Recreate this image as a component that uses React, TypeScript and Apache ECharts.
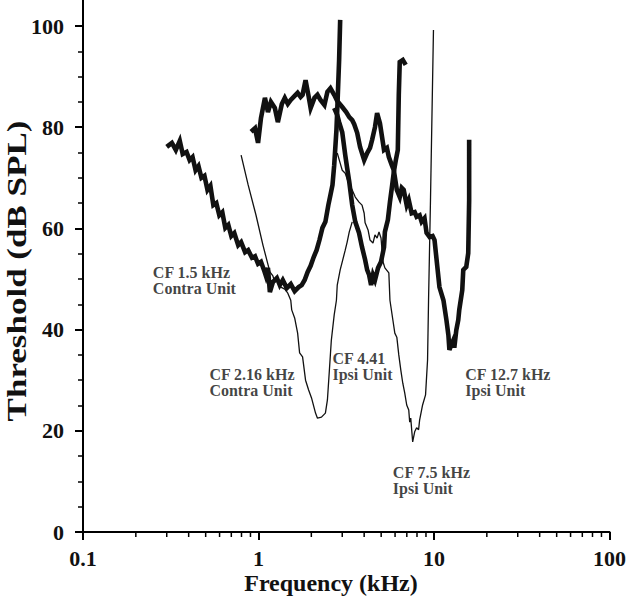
import React, { useEffect, useRef } from "react";
import * as echarts from "echarts";

const FONT = "'Liberation Serif', 'Times New Roman', Times, serif";

// Tuning curves: [frequency kHz, threshold dB SPL]
const cf15Contra: [number, number][] = [
  [0.3, 76.1], [0.321, 76.9], [0.338, 75.5], [0.356, 77.3], [0.37, 74.7], [0.389, 75.1],
  [0.405, 73.5], [0.421, 74.1], [0.438, 71.5], [0.455, 72.3], [0.473, 70], [0.492, 70.4],
  [0.512, 67.6], [0.532, 68.4], [0.553, 64.6], [0.575, 65], [0.598, 62.6], [0.622, 63.2],
  [0.647, 60.1], [0.673, 60.7], [0.7, 58.5], [0.728, 59.1], [0.766, 56.7], [0.796, 57.3],
  [0.839, 55.3], [0.873, 55.7], [0.918, 54.2], [0.955, 54.5], [0.994, 53], [1.033, 53.4],
  [1.074, 51.8], [1.102, 50.6], [1.132, 52.2], [1.161, 47.4], [1.208, 49.4], [1.273, 50.2],
  [1.322, 48.8], [1.375, 49.8], [1.449, 48.2], [1.527, 49], [1.607, 47.6], [1.694, 48.4],
  [1.762, 48.8], [1.833, 49.8], [1.906, 51.4], [1.982, 52.6], [2.061, 54.3], [2.143, 55.7],
  [2.225, 57.7], [2.313, 60.1], [2.405, 61.3], [2.5, 64.6], [2.57, 66.6], [2.64, 68.6],
  [2.7, 72.5], [2.78, 79.4], [2.81, 83.4], [2.88, 93.3], [2.92, 101.2],
];

const cf216Contra: [number, number][] = [
  [0.796, 74.5], [0.873, 68.6], [0.968, 62.6], [1.06, 56.7], [1.161, 51.4], [1.208, 50.6],
  [1.239, 49.4], [1.289, 49.8], [1.34, 48.4], [1.412, 48], [1.469, 47.2], [1.527, 45.8],
  [1.546, 43.9], [1.607, 42.3], [1.671, 39.3], [1.715, 35.4], [1.783, 34.6], [1.854, 30],
  [1.928, 28.1], [2.005, 26.5], [2.113, 23.5], [2.168, 22.5], [2.284, 22.7], [2.405, 23.5],
  [2.47, 26.1], [2.535, 32], [2.6, 37.9], [2.7, 42.9], [2.78, 45.8], [2.81, 48.8],
  [2.92, 51.8], [3.0, 53.4], [3.12, 55.7], [3.2, 57.3], [3.29, 59.3], [3.42, 61.3],
];

const cf441Ipsi: [number, number][] = [
  [2.7, 83.8], [2.81, 82.4], [2.88, 81], [3.0, 79], [3.12, 74.5], [3.2, 71.9], [3.29, 69.2],
  [3.42, 64.6], [3.56, 61.3], [3.74, 59.1], [3.89, 56.3], [4.05, 53.8], [4.16, 51.8],
  [4.27, 50.8], [4.38, 48.8], [4.49, 50.8], [4.61, 49.8], [4.8, 52.2], [4.99, 53.4],
  [5.19, 56.3], [5.25, 59.3], [5.46, 61.7], [5.61, 65.2], [5.75, 68], [5.9, 71.1],
  [6.06, 73.5], [6.22, 75.5], [6.3, 86.4], [6.38, 92.9], [6.64, 93.3], [6.9, 92.3],
];

const cf75Ipsi: [number, number][] = [
  [2.81, 74.9], [2.92, 72.9], [3.0, 71.5], [3.12, 70.9], [3.24, 69.2], [3.42, 67.6],
  [3.56, 66.2], [3.74, 65.2], [3.89, 64.6], [4.0, 63], [4.05, 61.1], [4.21, 59.7],
  [4.32, 57.7], [4.49, 57.1], [4.61, 58.7], [4.74, 58.1], [4.86, 59.3], [4.99, 58.1],
  [5.12, 53.4], [5.25, 52.2], [5.53, 51.2], [5.61, 45.8], [5.83, 41.9], [5.98, 39.3],
  [6.14, 38.5], [6.3, 35], [6.47, 32], [6.64, 29.4], [6.81, 27.5], [6.99, 25.1],
  [7.18, 24.1], [7.27, 21.7], [7.37, 22.5], [7.56, 17.8], [7.76, 19.8], [7.96, 20.6],
  [8.17, 20.2], [8.28, 22.1], [8.61, 25.1], [8.95, 27.1], [9.19, 34], [9.31, 45.8],
  [9.55, 65.6], [9.93, 99.2],
];

const cf127Ipsi: [number, number][] = [
  [0.907, 79.1], [0.955, 79.8], [0.994, 76.9], [1.033, 81.8], [1.088, 85.8], [1.132, 83],
  [1.177, 85], [1.239, 83.8], [1.289, 81], [1.358, 84.6], [1.412, 85.8], [1.469, 84.6],
  [1.527, 85.4], [1.607, 86.2], [1.671, 86.8], [1.738, 86], [1.783, 86.4], [1.854, 89.3],
  [1.928, 86.2], [1.982, 83.8], [2.084, 85.8], [2.168, 86.4], [2.255, 85.4], [2.375, 84.4],
  [2.47, 87], [2.57, 87.7], [2.7, 86.4], [2.81, 85.2], [3.0, 84], [3.16, 83], [3.29, 82],
  [3.42, 81.4], [3.51, 80.6], [3.65, 78.9], [3.79, 76.1], [4.0, 73.5], [4.16, 74.9],
  [4.32, 75.9], [4.44, 77.5], [4.61, 80], [4.74, 82.8], [4.92, 80.8], [5.19, 75.5],
  [5.39, 75.9], [5.53, 74.1], [5.75, 72.5], [5.9, 71.5], [6.14, 67.6], [6.38, 66.2],
  [6.55, 68], [6.72, 67.6], [6.99, 64.6], [7.18, 65.6], [7.46, 63], [7.76, 63.2],
  [7.96, 62.3], [8.28, 62.6], [8.5, 61.3], [8.83, 62], [9.07, 59.1], [9.44, 58.3],
  [9.82, 58.5], [10.07, 57.7], [10.74, 48.4], [11.32, 45.8], [11.77, 41.9], [12.08, 38.9],
  [12.24, 36], [12.56, 37], [12.88, 37.9], [13.05, 36.4], [13.4, 39.9], [13.75, 41.9],
  [13.93, 43.9], [14.49, 47.8], [14.68, 51.8], [15.27, 52.4], [15.67, 55.1], [15.86, 65.6],
  [15.86, 77.5],
];

// Annotation labels anchored at [kHz, dB]
const annotationTexts = [
  "CF 1.5 kHz\nContra Unit",
  "CF 2.16 kHz\nContra Unit",
  "CF 4.41\nIpsi Unit",
  "CF 7.5 kHz\nIpsi Unit",
  "CF 12.7 kHz\nIpsi Unit",
];
const annotationAnchors: [number, number][] = [
  [0.25, 49.8], [0.525, 29.6], [2.64, 32.8], [5.83, 10.1], [15.07, 29.6],
];

const minorTickFreqs = [
  0.2, 0.3, 0.4, 0.5, 0.6, 0.7, 0.8, 0.9,
  2, 3, 4, 5, 6, 7, 8, 9,
  20, 30, 40, 50, 60, 70, 80, 90,
];

const yTicks = { min: 0, max: 100, interval: 20 };
const xRange = { min: 0.1, max: 100 };

export default function App() {
  const ref = useRef<HTMLDivElement>(null);
  useEffect(() => {
    if (!ref.current) return;
    const chart = echarts.init(ref.current, undefined, { renderer: "svg" });
    const thick = (name: string, data: [number, number][]) => ({
      name, type: "line", data, showSymbol: false, symbol: "none", clip: false,
      lineStyle: { color: "#111", width: 4.6, join: "miter" }, z: 3,
    });
    const thin = (name: string, data: [number, number][]) => ({
      name, type: "line", data, showSymbol: false, symbol: "none", clip: false,
      lineStyle: { color: "#111", width: 1.3 }, z: 4,
    });
    chart.setOption({
      animation: false,
      backgroundColor: "#fff",
      grid: { left: 83, right: 15, top: 26, bottom: 67, containLabel: false },
      xAxis: {
        type: "log", logBase: 10, min: xRange.min, max: xRange.max,
        axisLine: { lineStyle: { color: "#000", width: 2 } },
        axisTick: { show: true, length: 8, lineStyle: { color: "#000", width: 2 } },
        splitLine: { show: false },
        axisLabel: {
          color: "#111", fontFamily: FONT, fontWeight: "bold", fontSize: 22, margin: 15,
          formatter: (v: number) => (v < 1 ? v.toFixed(1) : String(Math.round(v))),
        },
      },
      yAxis: {
        type: "value", min: yTicks.min, max: yTicks.max, interval: yTicks.interval,
        axisLine: { show: true, lineStyle: { color: "#000", width: 2 } },
        axisTick: { show: true, length: 8, lineStyle: { color: "#000", width: 2 } },
        minorTick: { show: true, splitNumber: 4, length: 5, lineStyle: { color: "#000", width: 1.5 } },
        splitLine: { show: false },
        axisLabel: {
          color: "#111", fontFamily: FONT, fontWeight: "bold", fontSize: 22, margin: 19,
        },
      },
      graphic: [
        { type: "line", shape: { x1: 83, y1: 0, x2: 83, y2: 27 }, style: { stroke: "#000", lineWidth: 2 } },
        {
          type: "text", x: 331, y: 583,
          style: { text: "Frequency (kHz)", font: `bold 24px ${FONT}`, fill: "#111", align: "center", verticalAlign: "middle" },
        },
        {
          type: "text", x: 17, y: 271, rotation: Math.PI / 2, scaleX: 1.25,
          style: { text: "Threshold (dB SPL)", font: `bold 28px ${FONT}`, fill: "#111", align: "center", verticalAlign: "middle" },
        },
      ],
      series: [
        thick("CF 1.5 kHz Contra", cf15Contra),
        thick("CF 4.41 Ipsi", cf441Ipsi),
        thick("CF 12.7 kHz Ipsi", cf127Ipsi),
        thin("CF 2.16 kHz Contra", cf216Contra),
        thin("CF 7.5 kHz Ipsi", cf75Ipsi),
        {
          name: "labels", type: "scatter", symbolSize: 0, clip: false, silent: true,
          data: annotationTexts.map((t, i) => ({ name: t, value: annotationAnchors[i] })),
          label: {
            show: true, position: "right", distance: 0, formatter: (p: any) => p.name,
            fontFamily: FONT, fontWeight: "bold", fontSize: 16, lineHeight: 16, color: "#111", align: "left",
          },
        },
        {
          name: "minorTicksX", type: "custom", coordinateSystem: "cartesian2d", clip: false, silent: true,
          data: minorTickFreqs.map((f) => [f, yTicks.min]),
          renderItem: (_p: any, api: any) => {
            const pt = api.coord([api.value(0), api.value(1)]);
            return {
              type: "line",
              shape: { x1: pt[0], y1: pt[1], x2: pt[0], y2: pt[1] + 5 },
              style: { stroke: "#000", lineWidth: 1.5 },
            };
          },
        },
      ],
    });
    return () => chart.dispose();
  }, []);
  return (
    <div
      ref={ref}
      style={{ position: "fixed", left: 0, top: 0, width: 629, height: 599, background: "#fff" }}
    />
  );
}
